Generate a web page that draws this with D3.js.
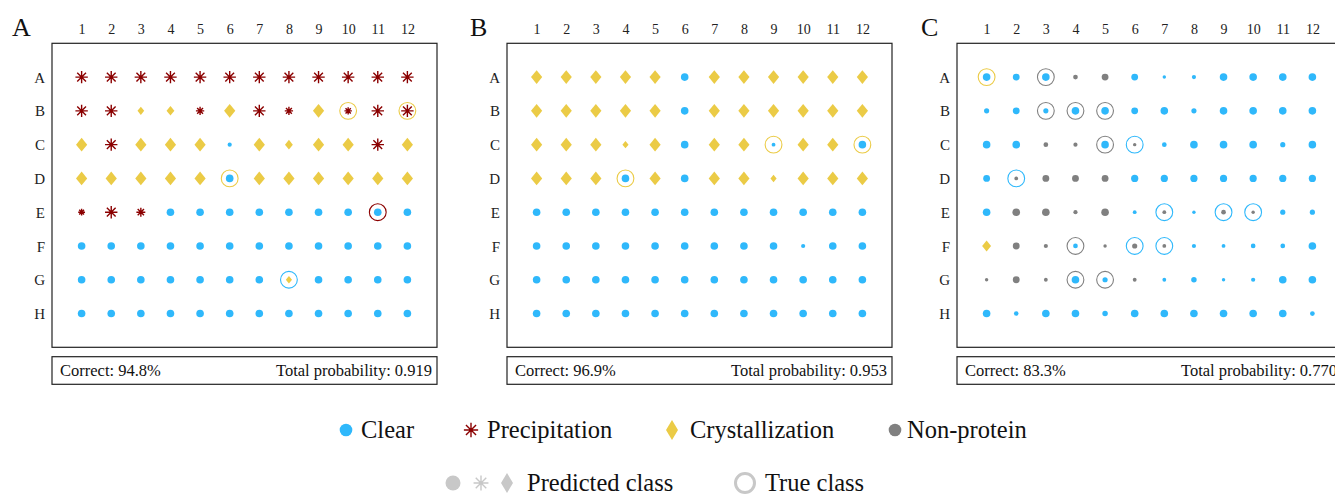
<!DOCTYPE html>
<html><head><meta charset="utf-8">
<script src="https://cdn.jsdelivr.net/npm/d3@7"></script>
<style>
html,body{margin:0;padding:0;background:#fff;}
svg{display:block;font-family:"Liberation Serif","Times New Roman",serif;}
</style></head>
<body>
<svg id="chart" width="1335" height="495"></svg>
<script>
// ---- data ----
const colLabels = ["1","2","3","4","5","6","7","8","9","10","11","12"];
const rowLabels = ["A","B","C","D","E","F","G","H"];
const panelLetters = ["A","B","C"];
const correctText = ["Correct: 94.8%","Correct: 96.9%","Correct: 83.3%"];
const totalProbText = ["Total probability: 0.919","Total probability: 0.953","Total probability: 0.770"];
// C = Clear, P = Precipitation, X = Crystallization, N = Non-protein
const predA = ["PPPPPPPPPPPP","PPXXPXPPXPPP","XPXXXCXXXXPX","XXXXXCXXXXXX","PPPCCCCCCCCC","CCCCCCCCCCCC","CCCCCCCXCCCC","CCCCCCCCCCCC"];
const trueA = ["PPPPPPPPPPPP","PPXXPXPPXXPX","XPXXXCXXXXPX","XXXXXXXXXXXX","PPPCCCCCCCPC","CCCCCCCCCCCC","CCCCCCCCCCCC","CCCCCCCCCCCC"];
const probA = [
 [1,1,1,1,1,1,1,1,1,1,1,1],
 [1,1,.6,.7,.67,1,1,.67,1,.6,1,1],
 [1,1,1,1,1,.55,1,.7,1,1,1,1],
 [1,1,1,1,1,1,1,1,1,1,1,1],
 [.55,1,.72,1,1,1,1,1,1,1,1,1],
 [1,1,1,1,1,1,1,1,1,1,1,1],
 [1,1,1,1,1,1,1,.55,1,1,1,1],
 [1,1,1,1,1,1,1,1,1,1,1,1]];
const predB = ["XXXXXCXXXXXX","XXXXXCXXXXXX","XXXXXCXXCXXC","XXXCXCXXXXXX","CCCCCCCCCCCC","CCCCCCCCCCCC","CCCCCCCCCCCC","CCCCCCCCCCCC"];
const trueB = ["XXXXXCXXXXXX","XXXXXCXXXXXX","XXXXXCXXXXXX","XXXXXCXXXXXX","CCCCCCCCCCCC","CCCCCCCCCCCC","CCCCCCCCCCCC","CCCCCCCCCCCC"];
const probB = [
 [1,1,1,1,1,1,1,1,1,1,1,1],
 [1,1,1,1,1,1,1,1,1,1,1,1],
 [1,1,1,.55,1,1,1,1,.5,1,1,1],
 [1,1,1,1,1,1,1,1,.55,1,1,1],
 [1,1,1,1,1,1,1,1,1,1,1,1],
 [1,1,1,1,1,1,1,1,1,.55,1,1],
 [1,1,1,1,1,1,1,1,1,1,1,1],
 [1,1,1,1,1,1,1,1,1,1,1,1]];
const predC = ["CCCNNCCCCCCC","CCCCCCCCCCCC","CCNNCNCCCCCC","CNNNNCCCCCCC","CNNNNCNCNNCC","XNNCNNNCCCCC","NNNCCNCCCCCC","CCCCCCCCCCCC"];
const trueC = ["XCNNNCCCCCCC","CCNNNCCCCCCC","CCNNNCCCCCCC","CCNNNCCCCCCC","CNNNNCCCCCCC","XNNNNCCCCCCC","NNNNNNCCCCCC","CCCCCCCCCCCC"];
const probC = [
 [1,.9,1,.62,.9,.9,.45,.55,1,1,1,1],
 [.68,.9,.68,1,1,.9,1,.68,1,1,1,1],
 [1,1,.62,.55,1,.45,.62,1,1,1,.68,1],
 [.9,.5,.9,.9,.9,.95,.95,.95,.95,.95,.95,.95],
 [1,1,1,.55,1,.5,.5,.45,.62,.45,.68,.68],
 [.8,.9,.55,.62,.45,.68,.5,.55,.5,.62,.62,1],
 [.45,.9,.5,1,.68,.5,.5,.72,.45,.55,1,1],
 [1,.6,1,1,.72,1,1,1,1,1,1,.62]];
const classKeys = ["C","P","X","N"];
const classNames = ["Clear","Precipitation","Crystallization","Non-protein"];
const classColors = ["#2fb8fb","#8b0000","#ebcb46","#808080"];

const panels = [
  {pred: predA, truth: trueA, prob: probA},
  {pred: predB, truth: trueB, prob: probB},
  {pred: predC, truth: trueC, prob: probC}
];

// ---- layout ----
const svg = d3.select("#chart");
const panelLeft = [52, 507, 957];
const letterX = [12, 470, 921];
const frameTop = 43.3, frameW = 385, frameH = 304;
const color = d3.scaleOrdinal().domain(classKeys).range(classColors);

function symbolPath(cls, s) {
  if (cls === "X") {
    const w = 5.6*s, h = 6.8*s;
    return `M0,${-h}L${w},0L0,${h}L${-w},0Z`;
  }
  if (cls === "P") {
    const r = 6.2*s; let p = "";
    for (let a = 0; a < 4; a++) {
      const t = a*Math.PI/4, dx = r*Math.cos(t), dy = r*Math.sin(t);
      p += `M${-dx},${-dy}L${dx},${dy}`;
    }
    return p;
  }
  return d3.symbol(d3.symbolCircle, Math.PI*Math.pow(3.8*s,2))();
}
function drawMark(g, cls, s, fill) {
  const c = fill || color(cls);
  if (cls === "P") {
    g.append("path").attr("d", symbolPath(cls, s)).attr("fill","none")
      .attr("stroke", c).attr("stroke-width", 1.4);
    g.append("circle").attr("r", 1.2*s).attr("fill", c);
  } else {
    g.append("path").attr("d", symbolPath(cls, s)).attr("fill", c);
  }
}

panels.forEach((pn, i) => {
  const left = panelLeft[i];
  const x = d3.scalePoint().domain(colLabels).range([left, left+frameW]).padding(1);
  const y = d3.scalePoint().domain(rowLabels).range([frameTop, frameTop+frameH]).padding(1);
  const g = svg.append("g");

  g.append("text").attr("x", letterX[i]).attr("y", 36).attr("font-size", 26).attr("fill","#111")
    .text(panelLetters[i]);

  g.append("rect").attr("x", left).attr("y", frameTop).attr("width", frameW).attr("height", frameH)
    .attr("fill","none").attr("stroke","#222").attr("stroke-width",1.2);

  const xAxis = g.append("g").attr("transform", `translate(0,${frameTop-9})`)
    .call(d3.axisTop(x).tickSize(0).tickPadding(0));
  xAxis.select(".domain").remove();
  xAxis.selectAll("text").attr("font-size", 14).attr("font-family","Liberation Serif").attr("fill","#222");

  const yAxis = g.append("g").attr("transform", `translate(${left-7},0)`)
    .call(d3.axisLeft(y).tickSize(0).tickPadding(0));
  yAxis.select(".domain").remove();
  yAxis.selectAll("text").attr("font-size", 15).attr("font-family","Liberation Serif").attr("fill","#222")
    .attr("dy","0.34em");

  const cells = [];
  rowLabels.forEach((r, ri) => colLabels.forEach((c, ci) => {
    cells.push({r, c, pred: pn.pred[ri][ci], truth: pn.truth[ri][ci], p: pn.prob[ri][ci]});
  }));
  const cg = g.selectAll("g.cell").data(cells).join("g").attr("class","cell")
    .attr("transform", d => `translate(${x(d.c)},${y(d.r)})`);
  cg.each(function(d){
    const el = d3.select(this);
    if (d.pred !== d.truth) {
      el.append("circle").attr("r", 8.4).attr("fill","none")
        .attr("stroke", color(d.truth)).attr("stroke-width", 1.1);
    }
    drawMark(el, d.pred, d.p);
  });

  const by = 356.7, bh = 27.6;
  g.append("rect").attr("x", left).attr("y", by).attr("width", frameW).attr("height", bh)
    .attr("fill","none").attr("stroke","#222").attr("stroke-width",1.2);
  g.append("text").attr("x", left+8).attr("y", by+19).attr("font-size", 16.5).attr("fill","#111")
    .text(correctText[i]);
  g.append("text").attr("x", left+frameW-5).attr("y", by+19).attr("font-size", 16.5).attr("fill","#111")
    .attr("text-anchor","end").text(totalProbText[i]);
});

// ---- legend ----
const leg = svg.append("g");
const legX = [346, 471, 672, 895];
const legTextX = [361, 487, 690, 907];
classKeys.forEach((k, i) => {
  const g = leg.append("g").attr("transform", `translate(${legX[i]},430)`);
  if (k === "C" || k === "N") {
    g.append("circle").attr("r", 6.3).attr("fill", color(k));
  } else if (k === "P") {
    drawMark(g, "P", 1.15);
  } else {
    g.append("path").attr("d", "M0,-10L6,0L0,10L-6,0Z").attr("fill", color(k));
  }
  leg.append("text").attr("x", legTextX[i]).attr("y", 438).attr("font-size", 24.5).attr("fill","#111")
    .text(classNames[i]);
});
const lg2 = leg.append("g");
const grey = "#c8c8c8";
lg2.append("circle").attr("cx", 453).attr("cy", 483).attr("r", 7.5).attr("fill", grey);
const ast = lg2.append("g").attr("transform","translate(481,483)");
drawMark(ast, "P", 1.2, grey);
lg2.append("path").attr("transform","translate(507,483)").attr("d","M0,-10L6,0L0,10L-6,0Z").attr("fill", grey);
lg2.append("text").attr("x", 527).attr("y", 491).attr("font-size", 24.5).attr("fill","#111").text("Predicted class");
lg2.append("circle").attr("cx", 745).attr("cy", 483).attr("r", 9.5).attr("fill","none").attr("stroke", grey).attr("stroke-width", 3);
lg2.append("text").attr("x", 765).attr("y", 491).attr("font-size", 24.5).attr("fill","#111").text("True class");
</script>
</body></html>
